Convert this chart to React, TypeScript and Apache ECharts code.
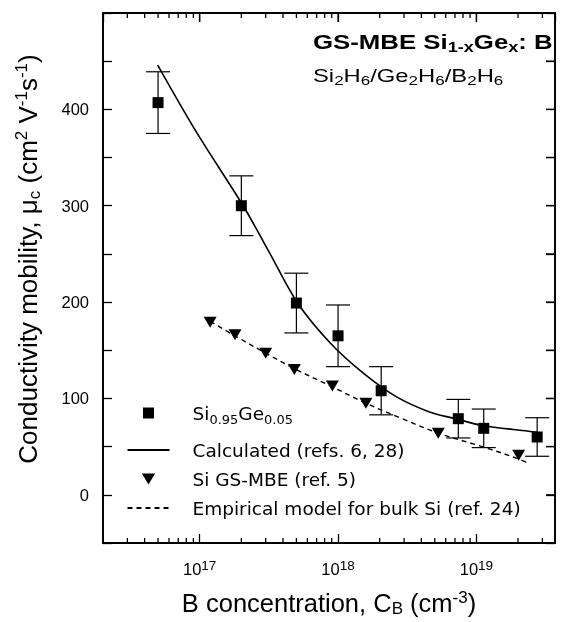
import React, { useEffect, useRef } from 'react';
import * as echarts from 'echarts';

// ---------- data ----------
// Si0.95Ge0.05 measured points (B concentration cm^-3, mobility cm^2/Vs, error half-width)
const sigeConc = [5e16, 2e17, 5e17, 1e18, 2.05e18, 7.4e18, 1.13e19, 2.75e19];
const sigeMobility = [407, 300, 199, 165, 108, 79, 69, 60];
const sigeError = [32, 31, 31, 32, 25, 20, 20, 20];

// Si GS-MBE (ref. 5)
const siConc = [1.19e17, 1.8e17, 3.0e17, 4.83e17, 9.1e17, 1.59e18, 5.3e18, 2.02e19];
const siMobility = [179, 166, 147, 130, 113, 95, 64, 41];

// Calculated curve (refs. 6, 28)
const calcConc = [4.97e16, 9.6e16, 2.06e17, 3.2e17, 5.13e17, 8.85e17, 1.53e18, 2.65e18, 4.58e18, 7.08e18, 1.1e19, 2.38e19, 2.75e19];
const calcMobility = [446, 375, 300, 251, 198.5, 157, 126, 101.6, 86, 79, 72, 66, 65];

// Empirical model for bulk Si (ref. 24)
const empConc = [1.19e17, 1.8e17, 3.0e17, 4.83e17, 9.1e17, 1.59e18, 2.8e18, 5.3e18, 1.1e19, 1.95e19, 2.35e19];
const empMobility = [180, 165, 147, 131, 112, 95, 80, 64, 50, 38, 33];

// axis ticks
const xTickExponents = [17, 18, 19];
const yTickLabels = [0, 100, 200, 300, 400];
const minorMantissas = [2, 3, 4, 5, 6, 7, 8, 9];
const minorDecades = [16, 17, 18, 19];

const SIGE_NAME = 'Si0.95Ge0.05';
const CALC_NAME = 'Calculated (refs. 6, 28)';
const SI_NAME = 'Si GS-MBE (ref. 5)';
const EMP_NAME = 'Empirical model for bulk Si (ref. 24)';

const X_MIN = 2e16;
const X_MAX = 3.7e19;
const Y_MIN = -50;
const Y_MAX = 500;
const Y_STEP = 50;

const FONT = '"Liberation Sans", Arial, Helvetica, sans-serif';
const WIDE_FONT = '"DejaVu Sans", "Liberation Sans", sans-serif';
const BLACK = '#000000';

const SQUARE = 'path://M0 0H10V10H0Z';
const TRIANGLE_DOWN = 'path://M0 0H12L6 10Z';

export default function App() {
  const ref = useRef<HTMLDivElement>(null);

  useEffect(() => {
    if (!ref.current) return;
    const chart = echarts.init(ref.current, undefined, { renderer: 'svg' });

    const minorTicks: number[] = [];
    minorDecades.forEach((d) =>
      minorMantissas.forEach((m) => {
        const v = m * Math.pow(10, d);
        if (v > X_MIN && v < X_MAX) minorTicks.push(v);
      })
    );
    const yTickValues: number[] = [];
    for (let v = Y_MIN; v <= Y_MAX; v += Y_STEP) yTickValues.push(v);
    const xMajorValues = xTickExponents.map((e) => Math.pow(10, e));

    const tickStyle = { stroke: BLACK, lineWidth: 1.3 };

    const titleGraphics: any[] = [
      {
        type: 'text',
        id: 'title',
        x: 313,
        y: 42,
        scaleX: 1.29,
        silent: true,
        style: {
          text: 'GS-MBE Si{sub|1-x}Ge{sub|x}: B',
          fontFamily: FONT,
          fontWeight: 'bold',
          fontSize: 20,
          lineHeight: 24,
          fill: BLACK,
          align: 'left',
          verticalAlign: 'middle',
          rich: {
            sub: { fontFamily: FONT, fontWeight: 'bold', fontSize: 14, lineHeight: 8, verticalAlign: 'bottom', fill: BLACK },
          },
        },
      },
      {
        type: 'text',
        id: 'subtitle',
        x: 313,
        y: 76,
        scaleX: 1.36,
        silent: true,
        style: {
          text: 'Si{sub|2}H{sub|6}/Ge{sub|2}H{sub|6}/B{sub|2}H{sub|6}',
          fontFamily: FONT,
          fontSize: 17.5,
          lineHeight: 22,
          fill: BLACK,
          align: 'left',
          verticalAlign: 'middle',
          rich: {
            sub: { fontFamily: FONT, fontSize: 12.5, lineHeight: 6, verticalAlign: 'bottom', fill: BLACK },
          },
        },
      },
    ];

    const option: any = {
      animation: false,
      graphic: titleGraphics,
      legend: {
        orient: 'vertical',
        left: 126.5,
        top: 394,
        padding: 0,
        itemWidth: 42,
        itemHeight: 11,
        itemGap: 7,
        selectedMode: false,
        symbolKeepAspect: true,
        data: [
          {
            name: SIGE_NAME,
            textStyle: {
              fontFamily: WIDE_FONT,
              fontSize: 18.5,
              lineHeight: 26,
              color: BLACK,
              padding: [6, 0, 6, 18],
              rich: {
                sub: { fontFamily: WIDE_FONT, fontSize: 13, lineHeight: 6, verticalAlign: 'bottom', color: BLACK },
              },
            },
          },
          { name: CALC_NAME, itemStyle: { opacity: 0 } },
          SI_NAME,
          { name: EMP_NAME, itemStyle: { opacity: 0 } },
        ],
        formatter: (name: string) => (name === SIGE_NAME ? 'Si{sub|0.95}Ge{sub|0.05}' : name),
        textStyle: {
          fontFamily: WIDE_FONT,
          fontSize: 18.5,
          lineHeight: 22,
          color: BLACK,
          padding: [0, 0, 0, 18],
          rich: {
            sub: { fontFamily: WIDE_FONT, fontSize: 13, lineHeight: 6, verticalAlign: 'bottom', color: BLACK },
          },
        },
      },
      grid: {
        left: 103,
        right: 6,
        top: 13,
        bottom: 79,
      },
      xAxis: [
        {
          type: 'log',
          min: X_MIN,
          max: X_MAX,
          position: 'bottom',
          axisLine: { show: true, onZero: false, lineStyle: { color: BLACK, width: 1.6 } },
          axisTick: { show: true, inside: true, length: 9, lineStyle: { color: BLACK, width: 1.3 } },
          splitLine: { show: false },
          name: 'B concentration, C{sub|B} (cm{sup|-3})',
          nameLocation: 'middle',
          nameGap: 46,
          nameTextStyle: {
            fontFamily: FONT,
            fontSize: 25.5,
            lineHeight: 28,
            color: BLACK,
            rich: {
              sub: { fontFamily: FONT, fontSize: 17, lineHeight: 8, verticalAlign: 'bottom', color: BLACK },
              sup: { fontFamily: FONT, fontSize: 17, lineHeight: 8, verticalAlign: 'top', color: BLACK },
            },
          },
          axisLabel: {
            show: true,
            margin: 15,
            fontFamily: FONT,
            fontSize: 16.5,
            lineHeight: 22,
            color: BLACK,
            showMinLabel: false,
            showMaxLabel: false,
            formatter: (v: number) => {
              const e = Math.log10(v);
              const r = Math.round(e);
              if (Math.abs(e - r) > 1e-6 || xTickExponents.indexOf(r) < 0) return '';
              return `10{sup|${r}}`;
            },
            rich: {
              sup: { fontFamily: FONT, fontSize: 13.5, lineHeight: 10, verticalAlign: 'top', color: BLACK },
            },
          },
        },
        {
          type: 'log',
          min: X_MIN,
          max: X_MAX,
          position: 'top',
          axisLine: { show: true, onZero: false, lineStyle: { color: BLACK, width: 1.6 } },
          axisTick: { show: true, inside: true, length: 9, lineStyle: { color: BLACK, width: 1.3 } },
          splitLine: { show: false },
          axisLabel: { show: true, formatter: () => '' },
        },
      ],
      yAxis: [
        {
          type: 'value',
          min: Y_MIN,
          max: Y_MAX,
          interval: Y_STEP,
          position: 'left',
          axisLine: { show: true, onZero: false, lineStyle: { color: BLACK, width: 1.6 } },
          axisTick: { show: true, inside: true, length: 9, lineStyle: { color: BLACK, width: 1.3 } },
          splitLine: { show: false },
          name: 'Conductivity mobility, \u03bc{sub|c} (cm{sup|2} V{sup|-1}s{sup|-1})',
          nameLocation: 'middle',
          nameRotate: 90,
          nameGap: 60,
          nameTextStyle: {
            fontFamily: FONT,
            fontSize: 26,
            lineHeight: 30,
            color: BLACK,
            padding: [0, 0, 0, 38],
            rich: {
              sub: { fontFamily: FONT, fontSize: 17, lineHeight: 8, verticalAlign: 'bottom', color: BLACK },
              sup: { fontFamily: FONT, fontSize: 17, lineHeight: 8, verticalAlign: 'top', color: BLACK },
            },
          },
          axisLabel: {
            show: true,
            margin: 14,
            fontFamily: FONT,
            fontSize: 16.5,
            color: BLACK,
            formatter: (v: number) => (yTickLabels.indexOf(v) >= 0 ? String(v) : ''),
          },
        },
        {
          type: 'value',
          min: Y_MIN,
          max: Y_MAX,
          interval: Y_STEP,
          position: 'right',
          axisLine: { show: true, onZero: false, lineStyle: { color: BLACK, width: 1.6 } },
          axisTick: { show: true, inside: true, length: 9, lineStyle: { color: BLACK, width: 1.3 } },
          splitLine: { show: false },
          axisLabel: { show: true, formatter: () => '' },
        },
      ],
      series: [
        {
          name: 'minor-ticks',
          type: 'custom',
          silent: true,
          clip: false,
          encode: { x: 0, y: 1 },
          data: minorTicks.map((v) => [v, 0]),
          renderItem: (params: any, api: any) => {
            const b = api.coord([api.value(0), Y_MIN]);
            return { type: 'line', shape: { x1: b[0], y1: b[1], x2: b[0], y2: b[1] - 5 }, style: tickStyle };
          },
          z: 1,
        },
        {
          name: 'error-bars',
          type: 'custom',
          silent: true,
          encode: { x: 0, y: [1, 2] },
          data: sigeConc.map((c, i) => [c, sigeMobility[i] - sigeError[i], sigeMobility[i] + sigeError[i]]),
          renderItem: (params: any, api: any) => {
            const x = api.value(0);
            const lo = api.coord([x, api.value(1)]);
            const hi = api.coord([x, api.value(2)]);
            const hw = 12;
            const st = { stroke: BLACK, lineWidth: 1.2 };
            return {
              type: 'group',
              children: [
                { type: 'line', shape: { x1: lo[0], y1: lo[1], x2: hi[0], y2: hi[1] }, style: st },
                { type: 'line', shape: { x1: lo[0] - hw, y1: lo[1], x2: lo[0] + hw, y2: lo[1] }, style: st },
                { type: 'line', shape: { x1: hi[0] - hw, y1: hi[1], x2: hi[0] + hw, y2: hi[1] }, style: st },
              ],
            };
          },
          z: 2,
        },
        {
          name: CALC_NAME,
          type: 'line',
          symbol: 'none',
          smooth: 0.35,
          data: calcConc.map((c, i) => [c, calcMobility[i]]),
          lineStyle: { color: BLACK, width: 1.6, type: 'solid' },
          itemStyle: { color: BLACK, opacity: 0 },
          z: 3,
        },
        {
          name: EMP_NAME,
          type: 'line',
          symbol: 'none',
          smooth: 0.35,
          data: empConc.map((c, i) => [c, empMobility[i]]),
          lineStyle: { color: BLACK, width: 1.4, type: [5, 4] },
          itemStyle: { color: BLACK, opacity: 0 },
          z: 3,
        },
        {
          name: SIGE_NAME,
          type: 'scatter',
          symbol: SQUARE,
          symbolSize: 11,
          data: sigeConc.map((c, i) => [c, sigeMobility[i]]),
          itemStyle: { color: BLACK, opacity: 1 },
          z: 4,
        },
        {
          name: SI_NAME,
          type: 'scatter',
          symbol: TRIANGLE_DOWN,
          symbolSize: [13, 11],
          data: siConc.map((c, i) => [c, siMobility[i]]),
          itemStyle: { color: BLACK, opacity: 1 },
          z: 4,
        },
      ],
    };

    chart.setOption(option);

    // Frame plus mirrored ticks on the top and right edges, placed through the axes' own conversion.
    const toPx = (x: number, y: number) => chart.convertToPixel({ gridIndex: 0 }, [x, y]) as number[];
    const bl = toPx(X_MIN, Y_MIN);
    const tr = toPx(X_MAX, Y_MAX);
    const frameChildren: any[] = [
      {
        type: 'rect',
        shape: { x: bl[0], y: tr[1], width: tr[0] - bl[0], height: bl[1] - tr[1] },
        style: { stroke: BLACK, lineWidth: 1.8, fill: 'none' },
      },
    ];
    yTickValues.forEach((v) => {
      const p = toPx(X_MAX, v);
      frameChildren.push({ type: 'line', shape: { x1: p[0], y1: p[1], x2: p[0] - 9, y2: p[1] }, style: tickStyle });
    });
    xMajorValues.forEach((v) => {
      const p = toPx(v, Y_MAX);
      frameChildren.push({ type: 'line', shape: { x1: p[0], y1: p[1], x2: p[0], y2: p[1] + 9 }, style: tickStyle });
    });
    minorTicks.forEach((v) => {
      const p = toPx(v, Y_MAX);
      frameChildren.push({ type: 'line', shape: { x1: p[0], y1: p[1], x2: p[0], y2: p[1] + 5 }, style: tickStyle });
    });
    chart.setOption({
      graphic: [
        ...titleGraphics,
        { type: 'group', id: 'frame', silent: true, z: 100, children: frameChildren },
      ],
    });

    return () => chart.dispose();
  }, []);

  return <div ref={ref} style={{ position: 'fixed', left: 0, top: 0, width: 566, height: 622 }} />;
}
